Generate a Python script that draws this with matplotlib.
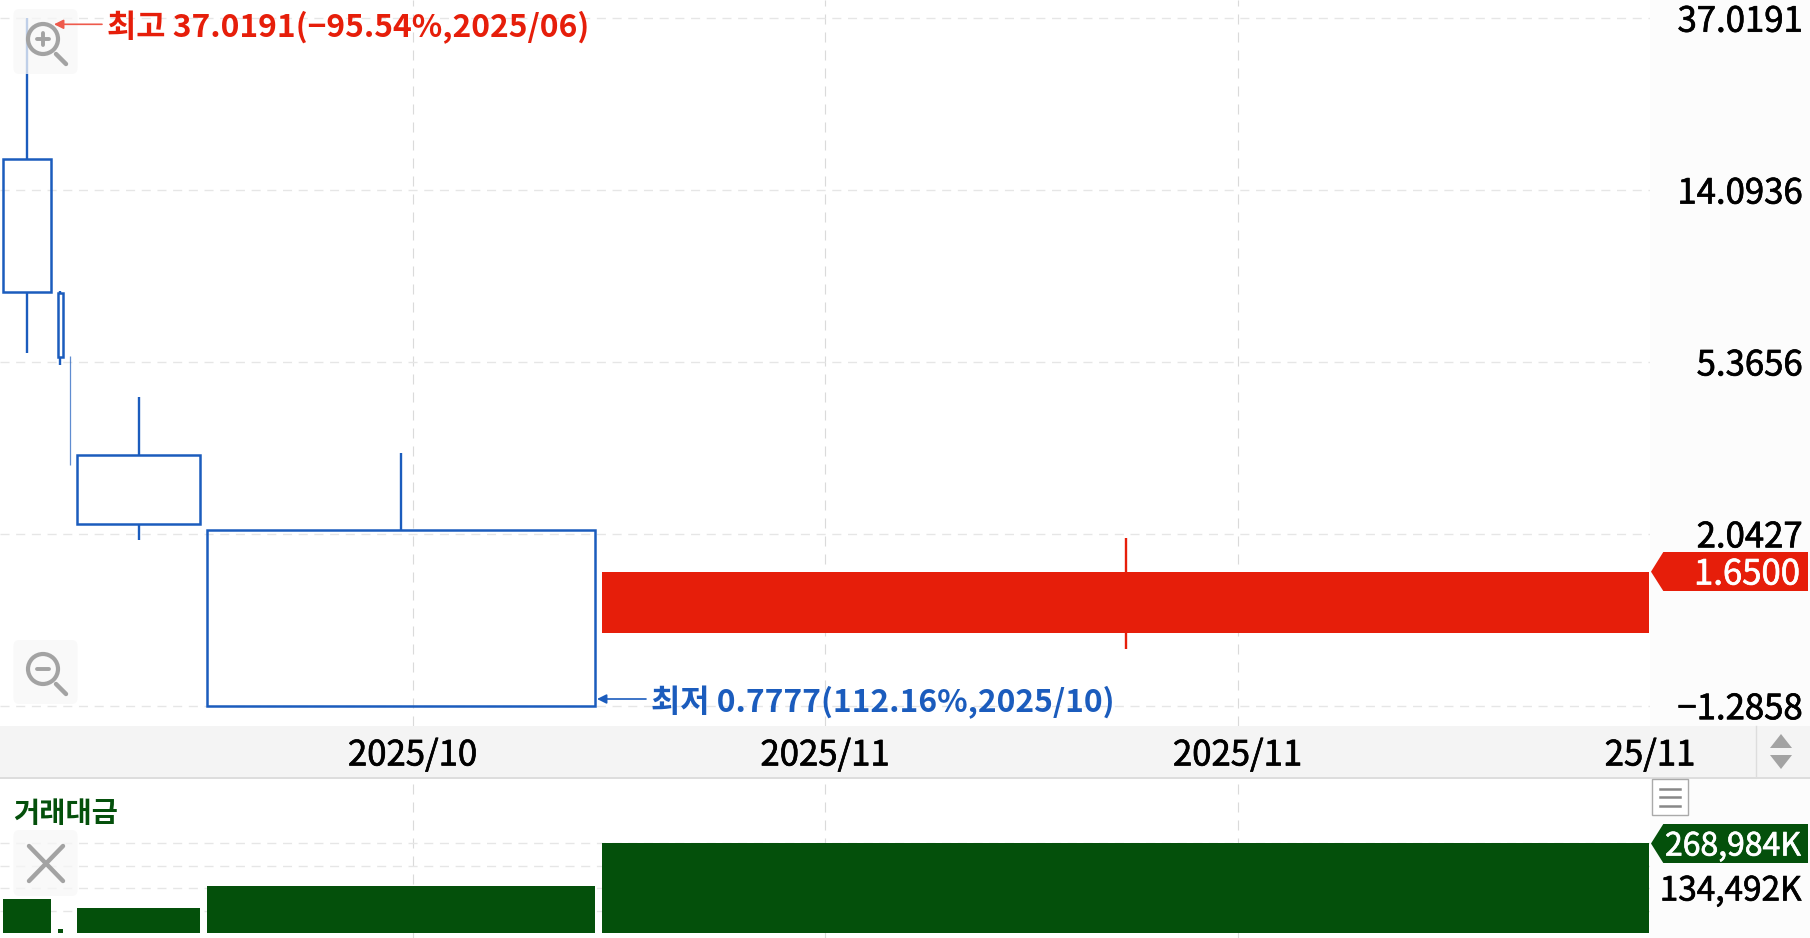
#equivolume candle chart with the trading value panel below
import numpy as np
import matplotlib
matplotlib.use('Agg')
import matplotlib.pyplot as plt
import matplotlib.patheffects as pe
from matplotlib.patches import Rectangle, Polygon, Circle, FancyBboxPatch
from matplotlib.ticker import NullLocator

plt.rcParams['font.family'] = ['Noto Sans CJK KR', 'DejaVu Sans']

#candles
opens = [16.79, 7.90, 5.55, 3.18, 2.09, 1.173]
closes = [7.96, 5.53, 3.01, 2.16, 0.7777, 1.65]
highs = [37.0191, 8.01, 5.55, 4.40, 3.21, 1.995]
lows = [5.65, 5.28, 3.01, 1.97, 0.7777, 1.068]
#width of each candle is the traded volume
volumes = [47.7, 4.9, 0.5, 123, 388, 1046.6]
#trading value in K
values = [101300, 11100, 2500, 74200, 142100, 268984]

price_ticks = [37.0191, 14.0936, 5.3656, 2.0427, 0.7777]
price_labels = ['37.0191', '14.0936', '5.3656', '2.0427', '\u22121.2858']
date_ticks = [412.5, 825, 1237.5, 1650]
date_labels = ['2025/10', '2025/11', '2025/11', '25/11']
value_ticks = [67246, 134492, 201738, 268984]

BLUE = '#1b5cbd'
RED = '#e61e0a'
GREEN = '#04500b'
ICON = '#a3a3a3'
W, H = 1810, 938
#a thin stroke makes the regular weight look like the medium one of the original
MEDIUM = [pe.withStroke(linewidth=0.5, foreground='black')]

def axes_px(x0, y0, x1, y1):
    #axes rectangle given in picture pixels, y going down
    return [x0 / W, 1 - y1 / H, (x1 - x0) / W, (y1 - y0) / H]

def set_grid(a):
    a.grid(True, axis='y', color='#e6e6e6', lw=1, dashes=(6.5, 4.8))
    a.grid(True, axis='x', color='#dadada', lw=0.8, dashes=(9, 7.2))
    a.set_axisbelow(True)
    for s in a.spines.values():
        s.set_visible(False)

fig = plt.figure(figsize=(W / 100, H / 100), dpi=100, facecolor='#fcfcfc')

#the band of the date axis runs under the right panel too
fig.patches.append(Rectangle((0, 1 - 778 / H), 1, 52.3 / H, transform=fig.transFigure,
                             facecolor='#f4f4f4', edgecolor='none', zorder=-1))
fig.patches.append(Rectangle((0, 1 - 779 / H), 1, 2 / H, transform=fig.transFigure,
                             facecolor='#dddddd', edgecolor='none', zorder=-1))

gap = 7
lefts = 3.3 + np.concatenate(([0], np.cumsum(np.array(volumes[:-1]) + gap)))
mids = lefts + np.array(volumes) / 2

#main panel
ax = fig.add_axes(axes_px(0, 0, 1650, 725.7))
ax.set_xlim(0, 1650)
ax.set_yscale('log')
ax.set_ylim(0.695, 41.0)
for i in range(len(volumes)):
    top = max(opens[i], closes[i])
    bottom = min(opens[i], closes[i])
    if closes[i] > opens[i]:
        ax.bar(lefts[i], top - bottom, volumes[i], bottom, align='edge', color=RED, zorder=3)
        ax.vlines(mids[i], lows[i], highs[i], color=RED, lw=1.7, zorder=3)
    elif volumes[i] < 1:
        ax.vlines(mids[i], lows[i], highs[i], color=BLUE, lw=0.9, alpha=0.7, zorder=3)
    else:
        ax.bar(lefts[i], top - bottom, volumes[i], bottom, align='edge', facecolor='none',
               edgecolor=BLUE, lw=1.8, zorder=3)
        ax.vlines(mids[i], top, highs[i], color=BLUE, lw=1.7, zorder=3)
        ax.vlines(mids[i], lows[i], bottom, color=BLUE, lw=1.7, zorder=3)
ax.set_yticks(price_ticks)
ax.set_yticklabels(price_labels, fontsize=25, ha='right', path_effects=MEDIUM)
ax.yaxis.set_minor_locator(NullLocator())
ax.yaxis.tick_right()
ax.tick_params(axis='y', length=0, pad=110, colors='black')
#no grid line on the last date, it is the panel edge
ax.set_xticks(date_ticks[:3])
ax.tick_params(axis='x', length=0, labelbottom=False)
set_grid(ax)

#date axis
ax_date = fig.add_axes(axes_px(0, 725.7, 1650, 778))
ax_date.patch.set_visible(False)
ax_date.set_xlim(0, 1650)
ax_date.set_yticks([])
ax_date.set_xticks(date_ticks)
ax_date.set_xticklabels(date_labels, fontsize=25, path_effects=MEDIUM)
ax_date.tick_params(axis='x', length=0, direction='in', pad=-28.5)
for s in ax_date.spines.values():
    s.set_visible(False)

#trading value panel
ax_v = fig.add_axes(axes_px(0, 779, 1650, 938))
ax_v.set_xlim(0, 1650)
ax_v.set_ylim(-15000, 462000)
ax_v.bar(lefts, values, volumes, align='edge', color=GREEN, zorder=3)
ax_v.set_xticks(date_ticks[:3])
ax_v.set_yticks(value_ticks)
ax_v.tick_params(length=0, labelbottom=False, labelleft=False)
set_grid(ax_v)

#overlay in pixels for the labels, flags and buttons
ov = fig.add_axes([0, 0, 1, 1], zorder=5)
ov.set_xlim(0, W)
ov.set_ylim(H, 0)
ov.axis('off')

ov.text(107, 27, '최고 37.0191(\u221295.54%,2025/06)', color=RED, fontsize=22.9, weight='bold',
        va='center', ha='left')
ov.annotate('', xy=(54, 24.3), xytext=(102, 24.3),
            arrowprops=dict(arrowstyle='-|>', color='#ee5a4c', lw=1.2, shrinkA=0, shrinkB=0, mutation_scale=14))
ov.text(651, 702, '최저 0.7777(112.16%,2025/10)', color=BLUE, fontsize=22.9, weight='bold',
        va='center', ha='left')
ov.annotate('', xy=(597, 699), xytext=(646, 699),
            arrowprops=dict(arrowstyle='-|>', color=BLUE, lw=1.2, shrinkA=0, shrinkB=0, mutation_scale=14))
ov.text(13, 814, '거래대금', color=GREEN, fontsize=20.5, weight='bold', va='center', ha='left')

#price and value flags
ov.add_patch(Polygon([(1651, 571.7), (1663.3, 552), (1808, 552), (1808, 591), (1663.3, 591)],
                     facecolor=RED, edgecolor='none'))
ov.text(1800, 575, '1.6500', color='white', fontsize=25, va='center', ha='right',
        path_effects=[pe.withStroke(linewidth=0.5, foreground='white')])
ov.add_patch(Polygon([(1651, 843.5), (1663.3, 824), (1808, 824), (1808, 863), (1663.3, 863)],
                     facecolor=GREEN, edgecolor='none'))
ov.text(1801, 846.5, '268,984K', color='white', fontsize=23, va='center', ha='right',
        path_effects=[pe.withStroke(linewidth=0.5, foreground='white')])
ov.text(1801, 891, '134,492K', color='black', fontsize=24, va='center', ha='right', path_effects=MEDIUM)

#scroll arrows of the date band
ov.plot([1755.7, 1755.7], [726, 777], color='#dddddd', lw=1)
ov.add_patch(Polygon([(1770, 748), (1781, 734), (1792, 748)], facecolor=ICON, edgecolor='none'))
ov.add_patch(Polygon([(1770, 755), (1792, 755), (1781, 769)], facecolor=ICON, edgecolor='none'))

#menu button
ov.add_patch(Rectangle((1651.7, 779.3), 36, 36, facecolor='white', edgecolor='#aaaaaa', lw=1))
for y in (789, 797.3, 805.6):
    ov.plot([1659.5, 1680], [y, y], color='#888888', lw=1.8)

#zoom and close buttons
for y0, y1 in ((9, 74), (640, 704), (830, 896)):
    ov.add_patch(FancyBboxPatch((13.5 + 6, y0 + 6), 64 - 12, y1 - y0 - 12, boxstyle='round,pad=6',
                                facecolor='#f7f7f7', edgecolor='none', alpha=0.75))
for cy, plus in ((39, True), (669, False)):
    ov.add_patch(Circle((43, cy), 15, facecolor='none', edgecolor=ICON, lw=3))
    ov.plot([56, 66], [cy + 15, cy + 25], color=ICON, lw=3.2, solid_capstyle='round')
    ov.plot([37, 49], [cy, cy], color=ICON, lw=2.8, solid_capstyle='round')
    if plus:
        ov.plot([43, 43], [cy - 6, cy + 6], color=ICON, lw=2.8, solid_capstyle='round')
ov.plot([29, 63], [846, 881], color=ICON, lw=3.2, solid_capstyle='round')
ov.plot([63, 29], [846, 881], color=ICON, lw=3.2, solid_capstyle='round')

fig.savefig('out.png', dpi=100, facecolor=fig.get_facecolor())
